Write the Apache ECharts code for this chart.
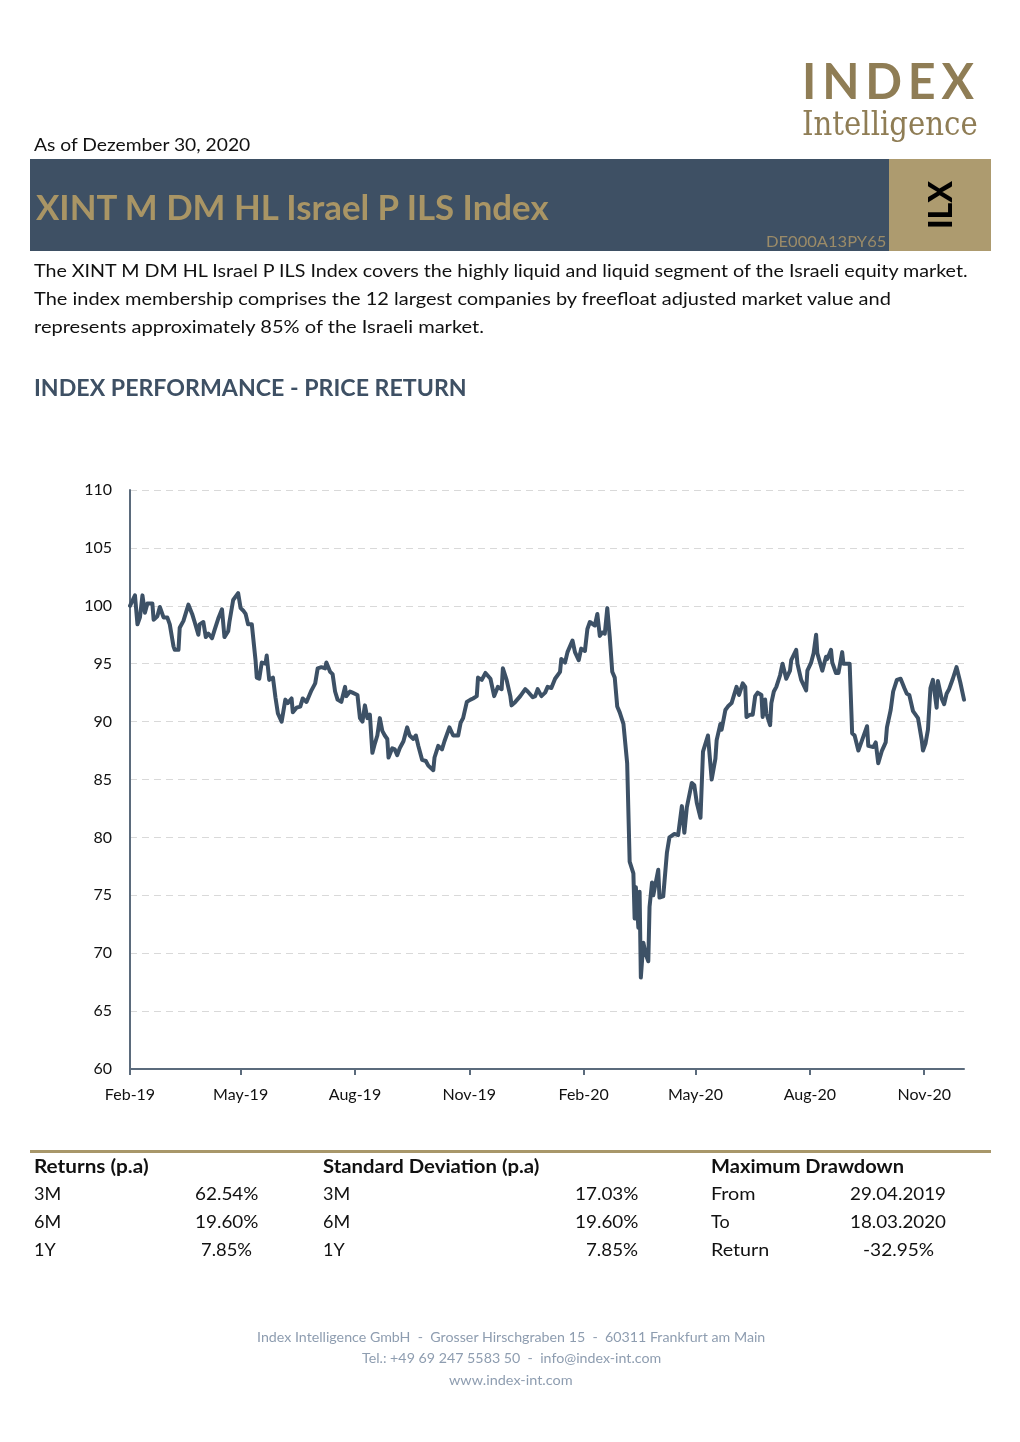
<!DOCTYPE html>
<html><head><meta charset="utf-8">
<script src="https://cdn.jsdelivr.net/npm/echarts@6/dist/echarts.min.js"></script>
<style>
html,body{margin:0;padding:0;background:#fff;}
#page{position:relative;width:1020px;height:1442px;overflow:hidden;font-family:Lato,"Open Sans",sans-serif;color:#111;}
#chart{position:absolute;left:0;top:0;width:1020px;height:1442px;z-index:1;}
.box{position:absolute;z-index:0;}
.t{position:absolute;white-space:nowrap;line-height:1.2;z-index:2;}
</style></head><body>
<div id="page">
<div class="box" style="left:30px;top:159px;width:859px;height:92px;background:#3e5064;"></div>
<div class="box" style="left:889px;top:159px;width:102px;height:92px;background:#ad9b6f;"></div>
<div class="box" style="left:30px;top:1150px;width:961px;height:3px;background:#a8976a;"></div>
<div id="chart"></div>

<div class="t" data-x="802" data-y="80" data-w="178" style="font-size:50px;font-weight:700;color:#8f7d55;letter-spacing:6px;">INDEX</div>
<div class="t" data-x="802" data-y="124" data-w="176" style="font-size:33px;font-family:'DejaVu Serif','Liberation Serif',serif;color:#8f7d55;">Intelligence</div>

<div class="t" data-x="34" data-y="145" data-w="216" style="font-size:18px;">As of Dezember 30, 2020</div>
<div class="t" data-x="36" data-y="207" data-w="513" style="font-size:34px;font-weight:700;color:#a99565;">XINT M DM HL Israel P ILS Index</div>
<div class="t" data-x="766" data-y="241" data-w="120" style="font-size:15px;color:#9b8b68;">DE000A13PY65</div>
<div id="ilx" style="position:absolute;left:940px;top:205px;z-index:2;transform:translate(-50%,-50%) rotate(-90deg);font-size:32px;font-weight:900;color:#000;line-height:1;white-space:nowrap;">ILX</div>

<div class="t" data-x="34" data-y="271" data-w="934" style="font-size:18px;">The XINT M DM HL Israel P ILS Index covers the highly liquid and liquid segment of the Israeli equity market.</div>
<div class="t" data-x="34" data-y="299" data-w="857" style="font-size:18px;">The index membership comprises the 12 largest companies by freefloat adjusted market value and</div>
<div class="t" data-x="34" data-y="327" data-w="450" style="font-size:18px;">represents approximately 85% of the Israeli market.</div>
<div class="t" data-x="34" data-y="388" data-w="433" style="font-size:23px;font-weight:700;color:#3e5064;">INDEX PERFORMANCE - PRICE RETURN</div>

<div class="t" data-x="34" data-y="1167" data-w="115" style="font-size:18px;font-weight:700;">Returns (p.a)</div>
<div class="t" data-x="323" data-y="1167" data-w="217" style="font-size:18px;font-weight:700;">Standard Deviation (p.a)</div>
<div class="t" data-x="711" data-y="1167" data-w="193" style="font-size:18px;font-weight:700;">Maximum Drawdown</div>

<div class="t" data-x="34" data-y="1194" style="font-size:18px;">3M</div>
<div class="t" data-x="34" data-y="1222" style="font-size:18px;">6M</div>
<div class="t" data-x="34" data-y="1250" style="font-size:18px;">1Y</div>
<div class="t" data-x="226.5" data-a="c" data-y="1194" data-w="63" style="font-size:18px;">62.54%</div>
<div class="t" data-x="226.5" data-a="c" data-y="1222" data-w="63" style="font-size:18px;">19.60%</div>
<div class="t" data-x="226.5" data-a="c" data-y="1250" data-w="51" style="font-size:18px;">7.85%</div>

<div class="t" data-x="323" data-y="1194" style="font-size:18px;">3M</div>
<div class="t" data-x="323" data-y="1222" style="font-size:18px;">6M</div>
<div class="t" data-x="323" data-y="1250" style="font-size:18px;">1Y</div>
<div class="t" data-x="638" data-a="r" data-y="1194" data-w="63" style="font-size:18px;">17.03%</div>
<div class="t" data-x="638" data-a="r" data-y="1222" data-w="63" style="font-size:18px;">19.60%</div>
<div class="t" data-x="638" data-a="r" data-y="1250" data-w="52" style="font-size:18px;">7.85%</div>

<div class="t" data-x="711" data-y="1194" data-w="45" style="font-size:18px;">From</div>
<div class="t" data-x="711" data-y="1222" style="font-size:18px;">To</div>
<div class="t" data-x="711" data-y="1250" data-w="58" style="font-size:18px;">Return</div>
<div class="t" data-x="898" data-a="c" data-y="1194" data-w="96" style="font-size:18px;">29.04.2019</div>
<div class="t" data-x="898" data-a="c" data-y="1222" data-w="96" style="font-size:18px;">18.03.2020</div>
<div class="t" data-x="898" data-a="c" data-y="1250" data-w="71" style="font-size:18px;">-32.95%</div>

<div class="t" data-x="511" data-a="c" data-y="1337" data-w="508" style="font-size:14px;color:#8e9db0;">Index Intelligence GmbH&nbsp; -&nbsp; Grosser Hirschgraben 15&nbsp; -&nbsp; 60311 Frankfurt am Main</div>
<div class="t" data-x="511" data-a="c" data-y="1358" data-w="299" style="font-size:14px;color:#8e9db0;">Tel.: +49 69 247 5583 50&nbsp; -&nbsp; info@index-int.com</div>
<div class="t" data-x="511" data-a="c" data-y="1380" data-w="124" style="font-size:14px;color:#8e9db0;">www.index-int.com</div>
</div>
<script>
// ---- data ----
const dates = [
'2019-02-01','2019-02-05','2019-02-07','2019-02-09','2019-02-11','2019-02-13','2019-02-15','2019-02-19','2019-02-20','2019-02-23',
'2019-02-25','2019-02-28','2019-03-03','2019-03-05','2019-03-08','2019-03-09','2019-03-12','2019-03-13','2019-03-16','2019-03-20',
'2019-03-23','2019-03-25','2019-03-28','2019-03-29','2019-04-01','2019-04-03','2019-04-05','2019-04-08','2019-04-10','2019-04-13',
'2019-04-16','2019-04-18','2019-04-21','2019-04-22','2019-04-25','2019-04-29','2019-05-01','2019-05-03','2019-05-05','2019-05-07',
'2019-05-10','2019-05-13','2019-05-14','2019-05-16','2019-05-18','2019-05-21','2019-05-22','2019-05-24','2019-05-27','2019-05-29',
'2019-05-31','2019-06-03','2019-06-06','2019-06-08','2019-06-11','2019-06-12','2019-06-15','2019-06-18','2019-06-20','2019-06-23',
'2019-06-27','2019-06-30','2019-07-02','2019-07-05','2019-07-08','2019-07-09','2019-07-12','2019-07-14','2019-07-16','2019-07-18',
'2019-07-21','2019-07-24','2019-07-25','2019-07-28','2019-07-30','2019-08-03','2019-08-05','2019-08-07','2019-08-09','2019-08-11',
'2019-08-13','2019-08-15','2019-08-17','2019-08-19','2019-08-21','2019-08-23','2019-08-25','2019-08-27','2019-08-28','2019-08-31',
'2019-09-02','2019-09-04','2019-09-06','2019-09-09','2019-09-12','2019-09-14','2019-09-17','2019-09-19','2019-09-21','2019-09-24',
'2019-09-27','2019-09-29','2019-10-03','2019-10-04','2019-10-07','2019-10-10','2019-10-12','2019-10-16','2019-10-19','2019-10-23',
'2019-10-25','2019-10-27','2019-10-30','2019-11-02','2019-11-04','2019-11-07','2019-11-08','2019-11-11','2019-11-14','2019-11-15',
'2019-11-18','2019-11-21','2019-11-24','2019-11-27','2019-11-28','2019-12-01','2019-12-04','2019-12-05','2019-12-08','2019-12-12',
'2019-12-16','2019-12-18','2019-12-22','2019-12-24','2019-12-26','2019-12-29','2020-01-01','2020-01-03','2020-01-06','2020-01-09',
'2020-01-13','2020-01-14','2020-01-17','2020-01-19','2020-01-23','2020-01-25','2020-01-28','2020-01-30','2020-02-02','2020-02-04',
'2020-02-06','2020-02-10','2020-02-12','2020-02-14','2020-02-16','2020-02-18','2020-02-20','2020-02-22','2020-02-24','2020-02-26',
'2020-02-28','2020-03-01','2020-03-04','2020-03-07','2020-03-09','2020-03-12','2020-03-13','2020-03-14','2020-03-16','2020-03-17',
'2020-03-18','2020-03-20','2020-03-22','2020-03-24','2020-03-25','2020-03-27','2020-03-28','2020-04-01','2020-04-02','2020-04-05',
'2020-04-08','2020-04-10','2020-04-14','2020-04-17','2020-04-20','2020-04-22','2020-04-24','2020-04-28','2020-04-30','2020-05-02',
'2020-05-05','2020-05-07','2020-05-11','2020-05-14','2020-05-17','2020-05-18','2020-05-21','2020-05-22','2020-05-25','2020-05-27',
'2020-05-30','2020-06-03','2020-06-05','2020-06-08','2020-06-10','2020-06-11','2020-06-14','2020-06-16','2020-06-18','2020-06-20',
'2020-06-23','2020-06-24','2020-06-26','2020-06-27','2020-06-30','2020-07-01','2020-07-03','2020-07-05','2020-07-08','2020-07-10',
'2020-07-13','2020-07-16','2020-07-17','2020-07-21','2020-07-22','2020-07-25','2020-07-26','2020-07-29','2020-07-30','2020-08-02',
'2020-08-04','2020-08-06','2020-08-07','2020-08-11','2020-08-14','2020-08-15','2020-08-18','2020-08-19','2020-08-22','2020-08-24',
'2020-08-27','2020-08-28','2020-08-31','2020-09-02','2020-09-04','2020-09-06','2020-09-09','2020-09-12','2020-09-16','2020-09-17',
'2020-09-21','2020-09-23','2020-09-25','2020-09-28','2020-10-01','2020-10-02','2020-10-05','2020-10-07','2020-10-10','2020-10-13',
'2020-10-16','2020-10-18','2020-10-20','2020-10-23','2020-10-27','2020-10-30','2020-10-31','2020-11-02','2020-11-04','2020-11-06',
'2020-11-08','2020-11-11','2020-11-12','2020-11-15','2020-11-17','2020-11-19','2020-11-21','2020-11-24','2020-11-27','2020-11-30',
'2020-12-03'
];
const values = [
100.0,100.9,98.4,99.0,100.9,99.4,100.2,100.2,98.8,99.1,
99.9,99.0,99.0,98.4,96.5,96.2,96.2,98.1,98.7,100.1,
99.3,98.6,97.5,98.4,98.6,97.3,97.6,97.2,97.9,98.9,
99.7,97.3,97.8,98.6,100.5,101.1,99.8,99.6,99.3,98.4,
98.4,95.3,93.8,93.7,95.1,95.0,95.7,93.6,93.8,92.1,
90.7,90.0,91.9,91.6,92.0,90.8,91.2,91.3,92.0,91.7,
92.7,93.3,94.6,94.7,94.6,95.1,94.3,94.1,92.6,91.9,
91.7,93.0,92.2,92.6,92.5,92.3,90.3,90.0,91.4,90.3,
90.6,87.3,88.1,88.8,90.3,89.2,88.8,88.5,86.9,87.7,
87.6,87.1,87.7,88.3,89.5,88.8,88.5,88.8,87.9,86.7,
86.6,86.2,85.8,86.9,87.9,87.6,88.3,89.5,88.8,88.8,
89.9,90.3,91.7,91.9,92.0,92.2,93.8,93.6,94.2,94.3,
93.7,92.2,93.0,92.8,94.6,93.6,92.2,91.4,91.7,92.2,
92.8,92.6,92.1,92.2,92.8,92.2,92.5,93.0,92.9,93.7,
94.3,95.4,95.1,96.0,97.0,96.0,95.3,96.3,96.1,98.0,
98.6,98.3,99.3,97.4,97.7,97.6,99.8,97.3,94.3,93.8,
91.3,90.8,89.8,86.4,77.9,76.9,73.0,75.7,72.2,75.3,
67.9,70.9,69.9,69.3,74.0,76.1,75.0,77.2,74.8,74.9,
78.7,80.0,80.3,80.2,82.7,80.4,82.6,84.7,84.5,83.0,
81.7,87.4,88.8,85.0,86.8,88.4,89.8,89.3,91.0,91.3,
91.6,93.0,92.3,93.3,93.0,90.4,90.6,90.6,92.2,92.5,
92.3,90.4,91.9,90.7,89.7,91.6,92.6,93.0,94.0,95.0,
93.7,94.4,95.3,96.2,95.0,93.6,93.5,92.7,94.4,95.1,
95.9,97.5,95.9,94.4,95.6,95.4,96.2,95.1,94.2,94.2,
96.0,95.0,95.0,95.0,89.0,88.8,87.5,88.4,89.6,87.9,
87.8,88.2,86.4,87.5,88.2,89.5,91.0,92.6,93.6,93.7,
92.9,92.4,92.3,90.9,90.3,88.4,87.5,88.1,89.3,92.9,
93.6,91.2,93.5,92.0,91.5,92.4,92.8,93.7,94.7,93.4,
91.9
];
const tickDates = ['2019-02-01','2019-05-01','2019-08-01','2019-11-01','2020-02-01','2020-05-01','2020-08-01','2020-11-01'];
const tickLabels = ['Feb-19','May-19','Aug-19','Nov-19','Feb-20','May-20','Aug-20','Nov-20'];
const yMin = 60, yMax = 110, yStep = 5;

// ---- text placement ----
document.querySelectorAll('.t').forEach(el => {
  const x = +el.dataset.x, y = +el.dataset.y, a = el.dataset.a || 'l';
  const nat = el.offsetWidth, h = el.offsetHeight;
  const k = el.dataset.w ? (+el.dataset.w) / nat : 1;
  const w = nat * k;
  const left = a === 'l' ? x : (a === 'c' ? x - w / 2 : x - w);
  el.style.left = left + 'px';
  el.style.top = (y - h / 2) + 'px';
  el.style.transformOrigin = '0 0';
  el.style.transform = 'scaleX(' + k + ')';
});

// ---- chart ----
const ts = d => Date.parse(d + 'T00:00:00Z');
const tickTs = tickDates.map(ts);
const labelOf = v => { const i = tickTs.indexOf(v); return i >= 0 ? tickLabels[i] : ''; };
const seriesData = dates.map((d, i) => [ts(d), values[i]]);
const axisColor = '#5b6b7c';
const chart = echarts.init(document.getElementById('chart'), null, {renderer: 'canvas'});
chart.setOption({
  animation: false,
  grid: {left: 130, right: 56, top: 490, bottom: 373, containLabel: false},
  xAxis: {
    type: 'value',
    min: ts(dates[0]), max: ts(dates[dates.length - 1]),
    axisLine: {show: true, lineStyle: {color: axisColor, width: 2}},
    axisTick: {show: true, customValues: tickTs, length: 6, lineStyle: {color: axisColor, width: 2}},
    axisLabel: {customValues: tickTs, formatter: labelOf, color: '#111', fontSize: 16, fontFamily: 'Lato, "Open Sans", sans-serif', margin: 18},
    splitLine: {show: false}
  },
  yAxis: {
    type: 'value', min: yMin, max: yMax, interval: yStep,
    axisLine: {show: true, lineStyle: {color: axisColor, width: 2}},
    axisTick: {show: false},
    axisLabel: {color: '#111', fontSize: 16, fontFamily: 'Lato, "Open Sans", sans-serif', margin: 18},
    splitLine: {show: true, lineStyle: {color: '#d9d9d9', type: [7, 5], width: 1}}
  },
  series: [{
    type: 'line', data: seriesData, showSymbol: false, symbol: 'none',
    lineStyle: {color: '#3d5166', width: 4, join: 'round', cap: 'round'},
    z: 3
  }]
});
</script>
</body></html>
